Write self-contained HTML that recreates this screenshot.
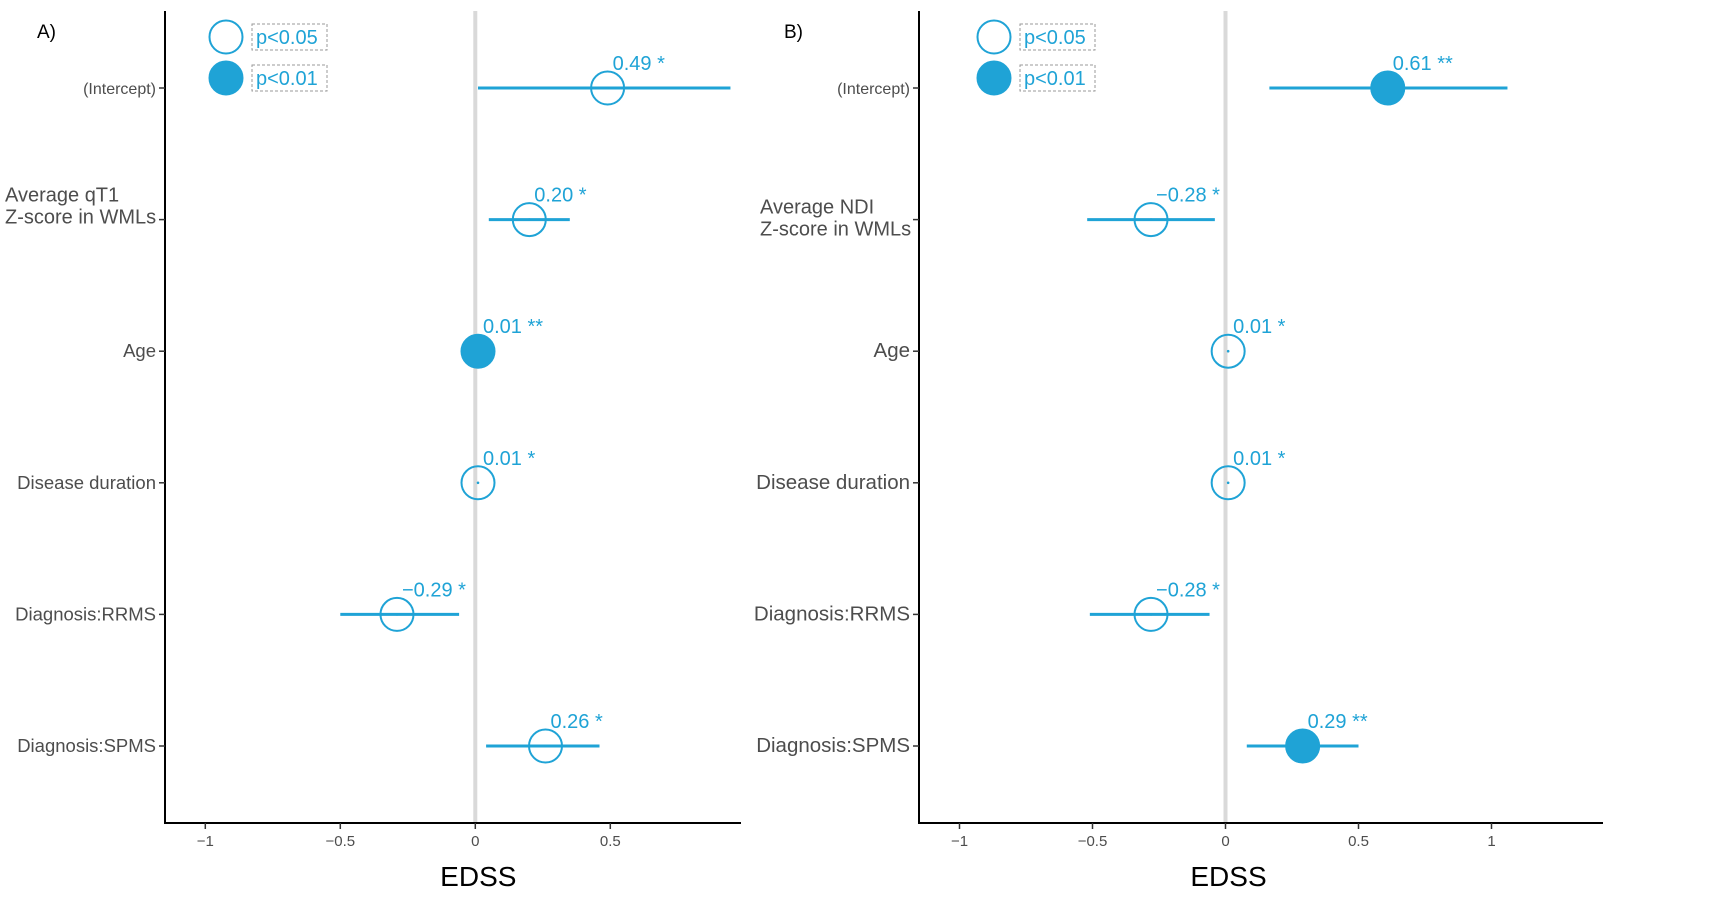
<!DOCTYPE html>
<html><head><meta charset="utf-8"><style>
html,body{margin:0;padding:0;background:#fff;}
svg{display:block;font-family:"Liberation Sans",Arial,sans-serif;}
</style></head><body>
<svg id="chart" width="1718" height="914" viewBox="0 0 1718 914" xmlns="http://www.w3.org/2000/svg"></svg>
<script>
// Panel A data
const catsA = ["(Intercept)", "Average qT1|Z-score in WMLs", "Age", "Disease duration", "Diagnosis:RRMS", "Diagnosis:SPMS"];
const estA = [0.49, 0.20, 0.01, 0.01, -0.29, 0.26];
const loA = [0.01, 0.05, 0.01, 0.01, -0.50, 0.04];
const hiA = [0.945, 0.35, 0.01, 0.01, -0.06, 0.46];
const sigA = [1, 1, 2, 1, 1, 1];
const labA = ["0.49 *", "0.20 *", "0.01 **", "0.01 *", "\u22120.29 *", "0.26 *"];
// Panel B data
const catsB = ["(Intercept)", "Average NDI|Z-score in WMLs", "Age", "Disease duration", "Diagnosis:RRMS", "Diagnosis:SPMS"];
const estB = [0.61, -0.28, 0.01, 0.01, -0.28, 0.29];
const loB = [0.165, -0.52, 0.01, 0.01, -0.51, 0.08];
const hiB = [1.06, -0.04, 0.01, 0.01, -0.06, 0.50];
const sigB = [2, 1, 1, 1, 1, 2];
const labB = ["0.61 **", "\u22120.28 *", "0.01 *", "0.01 *", "\u22120.28 *", "0.29 **"];
const ticksA = [-1, -0.5, 0, 0.5];
const ticksB = [-1, -0.5, 0, 0.5, 1];
const tickLabA = ["\u22121", "\u22120.5", "0", "0.5"];
const tickLabB = ["\u22121", "\u22120.5", "0", "0.5", "1"];

const NS = "http://www.w3.org/2000/svg";
const svg = document.getElementById("chart");
const BLUE = "#1fa3d6";
function mk(tag, attrs, parent) {
  const e = document.createElementNS(NS, tag);
  for (const k in attrs) e.setAttribute(k, attrs[k]);
  (parent || svg).appendChild(e);
  return e;
}
const rowY = i => 88 + i * 131.6;

function panel(cfg) {
  const g = mk("g", {});
  
  
  const x = v => cfg.zero + v * cfg.unit;
  const zl = mk("line", {x1: x(0), x2: x(0), y1: 11, y2: 822, stroke: "#d9d9d9", "stroke-width": 4}, g);
  
  
  const ya = mk("line", {x1: cfg.axL, x2: cfg.axL, y1: 11, y2: 824, stroke: "#000", "stroke-width": 2}, g);
  
  
  const xa = mk("line", {x1: cfg.axL - 1, x2: cfg.axR, y1: 823, y2: 823, stroke: "#000", "stroke-width": 2}, g);
  
  
  cfg.ticks.forEach((t, i) => {
    mk("line", {x1: x(t), x2: x(t), y1: 823, y2: 829, stroke: "#333", "stroke-width": 1.5}, g);
    const tl = mk("text", {x: x(t), y: 846, "text-anchor": "middle", "font-size": 15, fill: "#4d4d4d"}, g);
    tl.textContent = cfg.tickLab[i];
    
    
  });
  const xt = mk("text", {x: x(0) + 3, y: 886, "text-anchor": "middle", "font-size": 28, fill: "#000"}, g);
  xt.textContent = "EDSS";
  
  
  const pl = mk("text", {x: cfg.plX, y: 38, "font-size": 19, fill: "#000"}, g);
  pl.textContent = cfg.panelLab;
  
  
  cfg.cats.forEach((c, i) => {
    const y = rowY(i);
    mk("line", {x1: cfg.axL - 6, x2: cfg.axL, y1: y, y2: y, stroke: "#333", "stroke-width": 1.5}, g);
    if (c.includes("|")) {
      const parts = c.split("|");
      parts.forEach((p, j) => {
        const t = mk("text", {x: cfg.multiX, y: y - 18 + j * 22 + cfg.multiDy, "font-size": 20, fill: "#4d4d4d"}, g);
        t.textContent = p;
        
        
      });
    } else {
      const fs = c === "(Intercept)" ? 16 : cfg.catFs;
      const t = mk("text", {x: cfg.axL - 9, y: y + 6, "text-anchor": "end", "font-size": fs, fill: "#4d4d4d"}, g);
      t.textContent = c;
      
      
    }
    const eb = mk("line", {x1: x(cfg.lo[i]), x2: x(cfg.hi[i]), y1: y, y2: y, stroke: BLUE, "stroke-width": 3}, g);
    
    
    const filled = cfg.sig[i] === 2;
    const pt = mk("circle", {cx: x(cfg.est[i]), cy: y, r: 16.5, fill: filled ? BLUE : "none", stroke: BLUE, "stroke-width": 2}, g);
    
    
    if (!filled) mk("circle", {cx: x(cfg.est[i]), cy: y, r: 1.3, fill: BLUE}, g);
    const vl = mk("text", {x: x(cfg.est[i]) + 5, y: y - 18, "font-size": 20, fill: BLUE}, g);
    vl.textContent = cfg.lab[i];
    
    
  });
  const lg = mk("g", {}, g);
  
  
  [["p<0.05", false, 37], ["p<0.01", true, 78]].forEach(([txt, f, cy]) => {
    mk("circle", {cx: cfg.legX, cy: cy, r: 16.5, fill: f ? BLUE : "#fff", stroke: BLUE, "stroke-width": 2}, lg);
    mk("rect", {x: cfg.legX + 26, y: cy - 13, width: 75, height: 26, fill: "none", stroke: "#999", "stroke-width": 1, "stroke-dasharray": "3,2"}, lg);
    const t = mk("text", {x: cfg.legX + 30, y: cy + 7, "font-size": 20, fill: BLUE}, lg);
    t.textContent = txt;
    
    
  });
}

panel({name: "panel-a", zero: 475.3, unit: 270, axL: 165, axR: 741, ticks: ticksA, tickLab: tickLabA,
  cats: catsA, est: estA, lo: loA, hi: hiA, sig: sigA, lab: labA, panelLab: "A)", plX: 37,
  multiX: 5, multiDy: 0, catFs: 18.5, legX: 226});
panel({name: "panel-b", zero: 1225.5, unit: 266, axL: 919, axR: 1603, ticks: ticksB, tickLab: tickLabB,
  cats: catsB, est: estB, lo: loB, hi: hiB, sig: sigB, lab: labB, panelLab: "B)", plX: 784,
  multiX: 760, multiDy: 12, catFs: 20.5, legX: 994});
</script>
</body></html>
